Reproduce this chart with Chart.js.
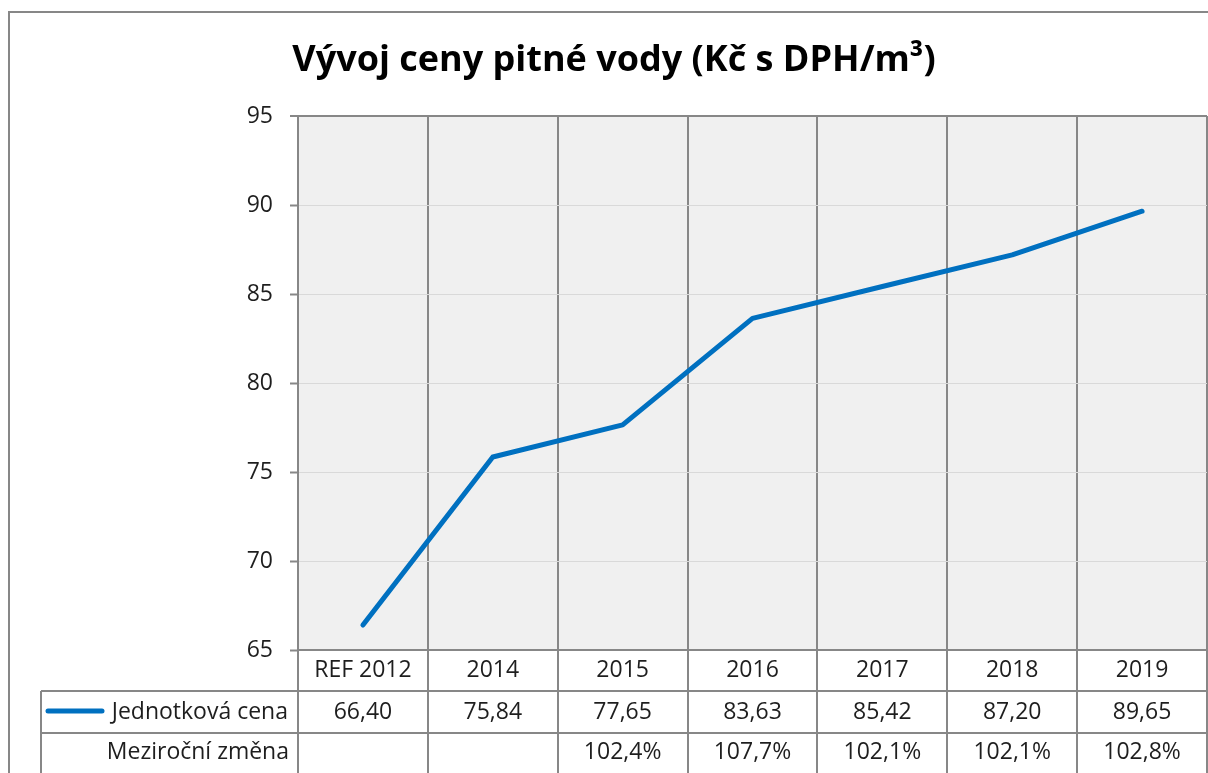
<!DOCTYPE html>
<html>
<head>
<meta charset="utf-8">
<script src="https://cdn.jsdelivr.net/npm/chart.js@4"></script>
<style>
  html, body { margin: 0; padding: 0; background: #fff; overflow: hidden; }
  canvas { display: block; }
</style>
</head>
<body>
<canvas id="waterChart" width="1208" height="773"></canvas>
<script>
// data
const chartTitle = 'Vývoj ceny pitné vody (Kč s DPH/m³)';
const categories = ['REF 2012', '2014', '2015', '2016', '2017', '2018', '2019'];
const seriesName = 'Jednotková cena';
const prices = [66.40, 75.84, 77.65, 83.63, 85.42, 87.20, 89.65];
const changeLabel = 'Meziroční změna';
const yearChange = [null, null, 102.4, 107.7, 102.1, 102.1, 102.8];
const yMin = 65, yMax = 95, yStep = 5;

const FONT = '"Open Sans", sans-serif';
const lineBlue = '#0070C0';
const darkLine = '#878787';
const lightLine = '#d9d9d9';
const textColor = '#1e1e1e';

const fmt = (v, d) => v.toFixed(d).replace('.', ',');

// baselines of the data table rows
const rowPrice = 719;
const rowChange = 759;
const tableLeft = 41;

const tablePlugin = {
    id: 'excelTable',
    beforeDraw(chart) {
        const { ctx, chartArea } = chart;
        ctx.save();
        ctx.fillStyle = '#f0f0f0';
        ctx.fillRect(chartArea.left, chartArea.top, chartArea.right - chartArea.left, chartArea.bottom - chartArea.top);
        ctx.restore();
    },
    afterDraw(chart) {
        const { ctx } = chart;
        const x = chart.scales.x;
        ctx.save();

        // outer chart border (right/bottom cropped off)
        ctx.strokeStyle = darkLine;
        ctx.lineWidth = 2;
        ctx.beginPath();
        ctx.moveTo(9, chart.height + 5);
        ctx.lineTo(9, 12);
        ctx.lineTo(chart.width + 5, 12);
        ctx.stroke();

        // title
        ctx.fillStyle = '#000';
        ctx.font = 'bold 36px ' + FONT;
        ctx.textAlign = 'center';
        ctx.textBaseline = 'alphabetic';
        ctx.fillText(chartTitle, 614, 71);

        // table row lines
        ctx.strokeStyle = darkLine;
        ctx.lineWidth = 2;
        ctx.beginPath();
        [691, 733].forEach(yy => {
            ctx.moveTo(tableLeft, yy);
            ctx.lineTo(chart.width, yy);
        });
        ctx.moveTo(tableLeft, 691);
        ctx.lineTo(tableLeft, chart.height);
        ctx.stroke();

        // legend key
        ctx.strokeStyle = lineBlue;
        ctx.lineWidth = 5;
        ctx.lineCap = 'round';
        ctx.beginPath();
        ctx.moveTo(48, 711);
        ctx.lineTo(102, 711);
        ctx.stroke();

        ctx.fillStyle = textColor;
        ctx.font = '23px ' + FONT;
        ctx.textAlign = 'right';
        ctx.fillText(seriesName, 288, rowPrice);
        ctx.fillText(changeLabel, 289, rowChange);

        ctx.textAlign = 'center';
        prices.forEach((v, i) => {
            ctx.fillText(fmt(v, 2), x.getPixelForValue(i), rowPrice);
        });
        yearChange.forEach((v, i) => {
            if (v === null) return;
            ctx.fillText(fmt(v, 1) + '%', x.getPixelForValue(i), rowChange);
        });
        ctx.restore();
    }
};

new Chart(document.getElementById('waterChart'), {
    type: 'line',
    data: {
        labels: categories,
        datasets: [{
            label: seriesName,
            data: prices,
            borderColor: lineBlue,
            borderWidth: 5,
            borderCapStyle: 'round',
            borderJoinStyle: 'round',
            pointRadius: 0,
            tension: 0,
            fill: false
        }]
    },
    options: {
        responsive: false,
        animation: false,
        layout: { padding: { left: 238, top: 116, right: 1, bottom: 0 } },
        plugins: {
            legend: { display: false },
            title: { display: false },
            tooltip: { enabled: false }
        },
        scales: {
            x: {
                type: 'category',
                offset: true,
                afterFit(scale) { scale.height = 123; },
                border: { color: darkLine, width: 2 },
                grid: {
                    offset: true,
                    color: darkLine,
                    lineWidth: 2,
                    drawTicks: true,
                    tickLength: 123,
                    tickColor: darkLine,
                    tickWidth: 2
                },
                ticks: {
                    color: textColor,
                    font: { family: FONT, size: 23 },
                    padding: -116,
                    maxRotation: 0,
                    autoSkip: false
                }
            },
            y: {
                min: yMin,
                max: yMax,
                afterFit(scale) { scale.width = 60; },
                border: { color: darkLine, width: 2 },
                grid: {
                    color: c => (c.tick && c.tick.value === yMax) ? darkLine : lightLine,
                    lineWidth: c => (c.tick && c.tick.value === yMax) ? 2 : 1,
                    tickLength: 8,
                    tickColor: darkLine,
                    tickWidth: 2
                },
                ticks: {
                    stepSize: yStep,
                    color: textColor,
                    font: { family: FONT, size: 23 },
                    padding: 17
                }
            }
        }
    },
    plugins: [tablePlugin]
});
</script>
</body>
</html>
